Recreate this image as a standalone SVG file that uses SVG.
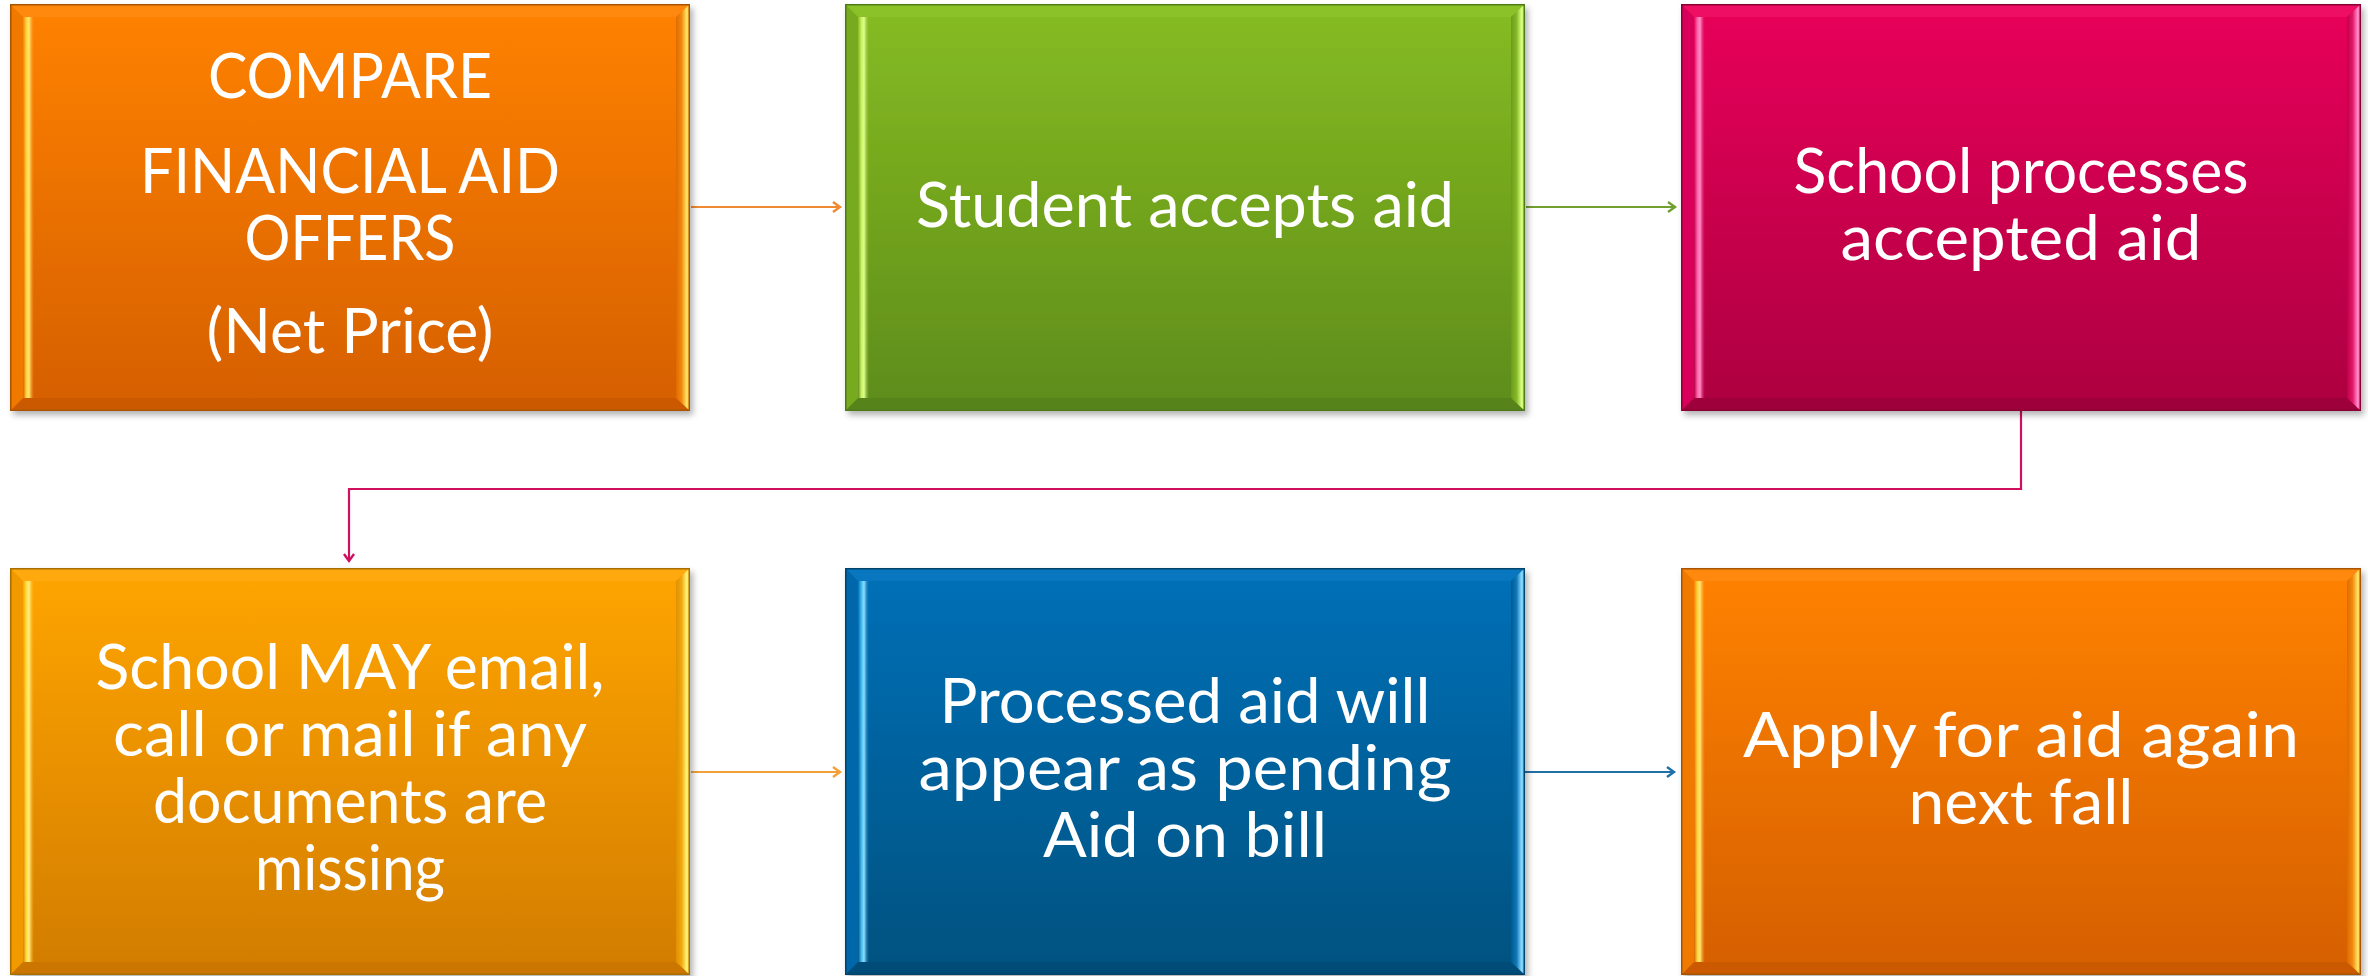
<svg xmlns="http://www.w3.org/2000/svg" width="2368" height="976" viewBox="0 0 2368 976">
<style>
.t{fill:#fff;font-family:Lato,"Liberation Sans",sans-serif;font-size:62px;text-anchor:middle}
.c{fill:none;stroke-width:2.2}
.edge{fill:none;stroke-width:1.5}
</style>
<defs>
<filter id="sh" x="-5%" y="-5%" width="110%" height="112%">
<feDropShadow dx="3" dy="4" stdDeviation="3" flood-color="#000" flood-opacity="0.3"/>
</filter>
<!-- orange -->
<linearGradient id="oF" x1="0" y1="0" x2="0" y2="1"><stop offset="0" stop-color="#FF8200"/><stop offset="1" stop-color="#D55F00"/></linearGradient>
<linearGradient id="oL" x1="0" y1="0" x2="1" y2="0"><stop offset="0" stop-color="#FFD23C" stop-opacity="0"/><stop offset="0.3" stop-color="#FFD23C"/><stop offset="0.55" stop-color="#FFE870"/><stop offset="1" stop-color="#FF9A20" stop-opacity="0"/></linearGradient>
<linearGradient id="oR" x1="0" y1="0" x2="1" y2="0"><stop offset="0" stop-color="#E06A00"/><stop offset="0.4" stop-color="#F08A10"/><stop offset="0.75" stop-color="#FFE060"/><stop offset="1" stop-color="#FFC840"/></linearGradient>
<!-- green -->
<linearGradient id="gF" x1="0" y1="0" x2="0" y2="1"><stop offset="0" stop-color="#86BC22"/><stop offset="1" stop-color="#5E8C1A"/></linearGradient>
<linearGradient id="gL" x1="0" y1="0" x2="1" y2="0"><stop offset="0" stop-color="#C8F060" stop-opacity="0"/><stop offset="0.3" stop-color="#C8F060"/><stop offset="0.55" stop-color="#E0FF90"/><stop offset="1" stop-color="#90C830" stop-opacity="0"/></linearGradient>
<linearGradient id="gR" x1="0" y1="0" x2="1" y2="0"><stop offset="0" stop-color="#6A9C1C"/><stop offset="0.4" stop-color="#86B828"/><stop offset="0.75" stop-color="#D8FF80"/><stop offset="1" stop-color="#B8E860"/></linearGradient>
<!-- pink -->
<linearGradient id="pF" x1="0" y1="0" x2="0" y2="1"><stop offset="0" stop-color="#E8005A"/><stop offset="1" stop-color="#AC0040"/></linearGradient>
<linearGradient id="pL" x1="0" y1="0" x2="1" y2="0"><stop offset="0" stop-color="#FF60A8" stop-opacity="0"/><stop offset="0.3" stop-color="#FF60A8"/><stop offset="0.55" stop-color="#FF90C8"/><stop offset="1" stop-color="#F02070" stop-opacity="0"/></linearGradient>
<linearGradient id="pR" x1="0" y1="0" x2="1" y2="0"><stop offset="0" stop-color="#C00048"/><stop offset="0.4" stop-color="#E01868"/><stop offset="0.75" stop-color="#FF88C8"/><stop offset="1" stop-color="#FF60A8"/></linearGradient>
<!-- amber -->
<linearGradient id="aF" x1="0" y1="0" x2="0" y2="1"><stop offset="0" stop-color="#FFA500"/><stop offset="1" stop-color="#D27C00"/></linearGradient>
<linearGradient id="aL" x1="0" y1="0" x2="1" y2="0"><stop offset="0" stop-color="#FFDA40" stop-opacity="0"/><stop offset="0.3" stop-color="#FFDA40"/><stop offset="0.55" stop-color="#FFF080"/><stop offset="1" stop-color="#FFB020" stop-opacity="0"/></linearGradient>
<linearGradient id="aR" x1="0" y1="0" x2="1" y2="0"><stop offset="0" stop-color="#E09000"/><stop offset="0.4" stop-color="#F0A810"/><stop offset="0.75" stop-color="#FFF070"/><stop offset="1" stop-color="#FFD840"/></linearGradient>
<!-- blue -->
<linearGradient id="bF" x1="0" y1="0" x2="0" y2="1"><stop offset="0" stop-color="#0070B8"/><stop offset="1" stop-color="#00527F"/></linearGradient>
<linearGradient id="bL" x1="0" y1="0" x2="1" y2="0"><stop offset="0" stop-color="#40B8F0" stop-opacity="0"/><stop offset="0.3" stop-color="#40B8F0"/><stop offset="0.55" stop-color="#90E0FF"/><stop offset="1" stop-color="#1080C0" stop-opacity="0"/></linearGradient>
<linearGradient id="bR" x1="0" y1="0" x2="1" y2="0"><stop offset="0" stop-color="#005A90"/><stop offset="0.4" stop-color="#1078B8"/><stop offset="0.75" stop-color="#88D8FF"/><stop offset="1" stop-color="#50B8F0"/></linearGradient>
<marker id="mO" markerUnits="userSpaceOnUse" markerWidth="14" markerHeight="14" refX="10" refY="7" orient="auto" viewBox="0 0 14 14"><path d="M3,2 L10,7 L3,12" fill="none" stroke="#F08A30" stroke-width="2.4"/></marker>
<marker id="mG" markerUnits="userSpaceOnUse" markerWidth="14" markerHeight="14" refX="10" refY="7" orient="auto" viewBox="0 0 14 14"><path d="M3,2 L10,7 L3,12" fill="none" stroke="#72A030" stroke-width="2.4"/></marker>
<marker id="mP" markerUnits="userSpaceOnUse" markerWidth="14" markerHeight="14" refX="10" refY="7" orient="auto" viewBox="0 0 14 14"><path d="M3,2 L10,7 L3,12" fill="none" stroke="#D0105E" stroke-width="2.4"/></marker>
<marker id="mA" markerUnits="userSpaceOnUse" markerWidth="14" markerHeight="14" refX="10" refY="7" orient="auto" viewBox="0 0 14 14"><path d="M3,2 L10,7 L3,12" fill="none" stroke="#F2A038" stroke-width="2.4"/></marker>
<marker id="mB" markerUnits="userSpaceOnUse" markerWidth="14" markerHeight="14" refX="10" refY="7" orient="auto" viewBox="0 0 14 14"><path d="M3,2 L10,7 L3,12" fill="none" stroke="#2070A8" stroke-width="2.4"/></marker>
</defs>

<g id="connectors">
<path class="c" stroke="#F08A30" d="M691,207 H840" marker-end="url(#mO)"/>
<path class="c" stroke="#72A030" d="M1526,207 H1675" marker-end="url(#mG)"/>
<path class="c" stroke="#D0105E" d="M2021,411 V489 H349 V561" marker-end="url(#mP)"/>
<path class="c" stroke="#F2A038" d="M691,772 H840" marker-end="url(#mA)"/>
<path class="c" stroke="#2070A8" d="M1524,772 H1674" marker-end="url(#mB)"/>
</g>

<g id="node1" transform="translate(10,4)">
<rect width="680" height="407" fill="url(#oF)" filter="url(#sh)"/>
<polygon points="0,0 680,0 666,13 13,13" fill="#FF8A10" opacity="0.9"/>
<polygon points="0,407 680,407 666,394 13,394" fill="#C85800" opacity="0.85"/>
<polygon points="0,0 13,13 13,394 0,407" fill="#F07A00"/>
<rect x="13" y="13" width="11" height="381" fill="url(#oL)"/>
<polygon points="680,0 680,407 666,394 666,13" fill="url(#oR)"/>
<rect x="0.75" y="0.75" width="678.5" height="405.5" class="edge" stroke="#A85400"/>
<text class="t" x="340" y="94" textLength="284" lengthAdjust="spacingAndGlyphs">COMPARE</text>
<text class="t" x="340" y="189" textLength="420" lengthAdjust="spacingAndGlyphs">FINANCIAL AID</text>
<text class="t" x="340" y="256" textLength="211" lengthAdjust="spacingAndGlyphs">OFFERS</text>
<text class="t" x="340" y="349" textLength="287" lengthAdjust="spacingAndGlyphs">(Net Price)</text>
</g>

<g id="node2" transform="translate(845,4)">
<rect width="680" height="407" fill="url(#gF)" filter="url(#sh)"/>
<polygon points="0,0 680,0 666,13 13,13" fill="#8CC22A" opacity="0.9"/>
<polygon points="0,407 680,407 666,394 13,394" fill="#56821A" opacity="0.85"/>
<polygon points="0,0 13,13 13,394 0,407" fill="#78AA20"/>
<rect x="13" y="13" width="11" height="381" fill="url(#gL)"/>
<polygon points="680,0 680,407 666,394 666,13" fill="url(#gR)"/>
<rect x="0.75" y="0.75" width="678.5" height="405.5" class="edge" stroke="#4E7A18"/>
<text class="t" x="340" y="223" textLength="538" lengthAdjust="spacingAndGlyphs">Student accepts aid</text>
</g>

<g id="node3" transform="translate(1681,4)">
<rect width="680" height="407" fill="url(#pF)" filter="url(#sh)"/>
<polygon points="0,0 680,0 666,13 13,13" fill="#EE1064" opacity="0.9"/>
<polygon points="0,407 680,407 666,394 13,394" fill="#9A003A" opacity="0.85"/>
<polygon points="0,0 13,13 13,394 0,407" fill="#D8005A"/>
<rect x="13" y="13" width="11" height="381" fill="url(#pL)"/>
<polygon points="680,0 680,407 666,394 666,13" fill="url(#pR)"/>
<rect x="0.75" y="0.75" width="678.5" height="405.5" class="edge" stroke="#8A0032"/>
<text class="t" x="340" y="189" textLength="455" lengthAdjust="spacingAndGlyphs">School processes</text>
<text class="t" x="340" y="256" textLength="361" lengthAdjust="spacingAndGlyphs">accepted aid</text>
</g>

<g id="node4" transform="translate(10,568)">
<rect width="680" height="407" fill="url(#aF)" filter="url(#sh)"/>
<polygon points="0,0 680,0 666,13 13,13" fill="#FFAA10" opacity="0.9"/>
<polygon points="0,407 680,407 666,394 13,394" fill="#C87400" opacity="0.85"/>
<polygon points="0,0 13,13 13,394 0,407" fill="#F09A00"/>
<rect x="13" y="13" width="11" height="381" fill="url(#aL)"/>
<polygon points="680,0 680,407 666,394 666,13" fill="url(#aR)"/>
<rect x="0.75" y="0.75" width="678.5" height="405.5" class="edge" stroke="#A86E00"/>
<text class="t" x="340" y="121" textLength="509" lengthAdjust="spacingAndGlyphs">School MAY email,</text>
<text class="t" x="340" y="188" textLength="474" lengthAdjust="spacingAndGlyphs">call or mail if any</text>
<text class="t" x="340" y="255" textLength="394" lengthAdjust="spacingAndGlyphs">documents are</text>
<text class="t" x="340" y="322" textLength="190" lengthAdjust="spacingAndGlyphs">missing</text>
</g>

<g id="node5" transform="translate(845,568)">
<rect width="680" height="407" fill="url(#bF)" filter="url(#sh)"/>
<polygon points="0,0 680,0 666,13 13,13" fill="#0A78C0" opacity="0.9"/>
<polygon points="0,407 680,407 666,394 13,394" fill="#004A75" opacity="0.85"/>
<polygon points="0,0 13,13 13,394 0,407" fill="#0068AA"/>
<rect x="13" y="13" width="11" height="381" fill="url(#bL)"/>
<polygon points="680,0 680,407 666,394 666,13" fill="url(#bR)"/>
<rect x="0.75" y="0.75" width="678.5" height="405.5" class="edge" stroke="#00446C"/>
<text class="t" x="340" y="155" textLength="491" lengthAdjust="spacingAndGlyphs">Processed aid will</text>
<text class="t" x="340" y="222" textLength="533" lengthAdjust="spacingAndGlyphs">appear as pending</text>
<text class="t" x="340" y="289" textLength="284" lengthAdjust="spacingAndGlyphs">Aid on bill</text>
</g>

<g id="node6" transform="translate(1681,568)">
<rect width="680" height="407" fill="url(#oF)" filter="url(#sh)"/>
<polygon points="0,0 680,0 666,13 13,13" fill="#FF8A10" opacity="0.9"/>
<polygon points="0,407 680,407 666,394 13,394" fill="#C85800" opacity="0.85"/>
<polygon points="0,0 13,13 13,394 0,407" fill="#F07A00"/>
<rect x="13" y="13" width="11" height="381" fill="url(#oL)"/>
<polygon points="680,0 680,407 666,394 666,13" fill="url(#oR)"/>
<rect x="0.75" y="0.75" width="678.5" height="405.5" class="edge" stroke="#A85400"/>
<text class="t" x="340" y="189" textLength="556" lengthAdjust="spacingAndGlyphs">Apply for aid again</text>
<text class="t" x="340" y="256" textLength="225" lengthAdjust="spacingAndGlyphs">next fall</text>
</g>
</svg>
